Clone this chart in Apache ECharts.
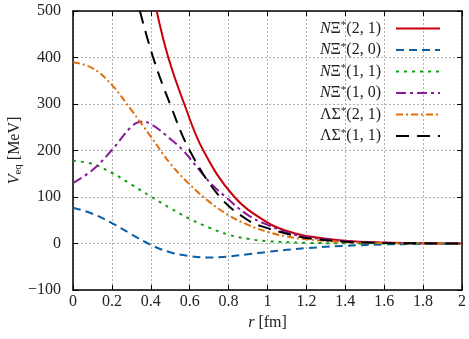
<!DOCTYPE html>
<html>
<head>
	<meta charset="utf-8">
	<title></title>
	<style type="text/css">
	html, body { margin: 0; padding: 0; background: #fff; }
	#chart { width: 469px; height: 339px; }
	</style>
</head>
<body>
	<div id="chart"></div>
	<script src="https://cdn.jsdelivr.net/npm/echarts@6/dist/echarts.min.js"></script>
	<script>
	// r in fm, V in MeV
	var xTicks = [0, 0.2, 0.4, 0.6, 0.8, 1, 1.2, 1.4, 1.6, 1.8, 2];
	var yTicks = [-100, 0, 100, 200, 300, 400, 500];

	var rRed = [0.43, 0.49, 0.572, 0.67, 0.83, 1.0, 1.1, 1.2, 1.4, 1.6, 1.8, 2.0];
	var vRed = [500, 400, 300, 200, 100, 45, 27, 16, 6, 2, 0.6, 0];

	var rBlue = [0, 0.1, 0.2, 0.3, 0.4, 0.5, 0.6, 0.7, 0.8, 0.9, 1.0, 1.2, 1.4, 1.6, 1.8, 2.0];
	var vBlue = [77, 64, 44, 20, -3, -19, -27, -30, -28, -23, -18, -10, -5, -2, -1, 0];

	var rGreen = [0, 0.1, 0.2, 0.3, 0.4, 0.5, 0.6, 0.7, 0.8, 0.9, 1.0, 1.2, 1.4, 1.6, 2.0];
	var vGreen = [178, 171, 152, 127, 101, 76, 53, 34, 19, 10, 5, 1.5, 0.5, 0, 0];

	var rPurple = [0, 0.1, 0.2, 0.3, 0.35, 0.4, 0.5, 0.566, 0.7, 0.785, 0.9, 1.0, 1.1, 1.2, 1.4, 1.6, 2.0];
	var vPurple = [130, 158, 201, 251, 262, 257, 225, 200, 133, 100, 61, 40, 24, 14, 5, 1.5, 0];

	var rOrange = [0, 0.1, 0.2, 0.3, 0.4, 0.5, 0.6, 0.7, 0.8, 0.9, 1.0, 1.1, 1.2, 1.4, 1.6, 2.0];
	var vOrange = [390, 377, 341, 287, 230, 172, 127, 90, 61, 40, 25, 15, 9, 3, 1, 0];

	var rBlack = [0.344, 0.412, 0.499, 0.6, 0.756, 0.9, 1.0, 1.1, 1.2, 1.4, 1.6, 1.8, 2.0];
	var vBlack = [500, 400, 300, 200, 100, 50, 33, 21, 12, 4, 1.2, 0.3, 0];

	var names = ['NΞ*(2,1)', 'NΞ*(2,0)', 'NΞ*(1,1)', 'NΞ*(1,0)', 'ΛΣ*(2,1)', 'ΛΣ*(1,1)'];

	function pairs(xs, ys) {
		var out = [];
		for (var i = 0; i < xs.length; i++) out.push([xs[i], ys[i]]);
		return out;
	}

	var serif = 'Liberation Serif';

	function mkLine(name, xs, ys, color, type) {
		return {
			name: name,
			type: 'line',
			data: pairs(xs, ys),
			smooth: 0.4,
			showSymbol: false,
			symbol: 'none',
			clip: true,
			lineStyle: { color: color, width: 2, type: type },
			itemStyle: { color: color }
		};
	}

	var gridLine = { show: true, lineStyle: { color: '#b0b0b0', width: 1, type: [2, 2] } };
	var boxLine = { show: true, onZero: false, lineStyle: { color: '#000', width: 1.5 } };
	var tick = { show: true, inside: true, length: 5, lineStyle: { color: '#000', width: 1 } };

	var option = {
		animation: false,
		backgroundColor: '#fff',
		grid: { left: 73, right: 7, top: 11, bottom: 49, outerBoundsMode: 'none' },
		legend: {
			orient: 'vertical',
			right: 23,
			top: 15,
			align: 'right',
			itemWidth: 44,
			itemHeight: 14,
			itemGap: 5,
			itemStyle: { opacity: 0 },
			data: names,
			textStyle: {
				fontFamily: serif, fontSize: 16, color: '#222', padding: [0, 10, 0, 0],
				rich: {
					i: { fontFamily: serif, fontSize: 16, fontStyle: 'italic', color: '#222' },
					s: { fontFamily: serif, fontSize: 11, color: '#222', padding: [0, 0, 6, 0] }
				}
			},
			formatter: function (n) {
				var m = n.match(/\((\d),(\d)\)/);
				if (n.charAt(0) === 'N') return '{i|N}Ξ{s|*}(' + m[1] + ', ' + m[2] + ')';
				return 'ΛΣ{s|*}(' + m[1] + ', ' + m[2] + ')';
			}
		},
		xAxis: [{
			type: 'value', min: 0, max: 2, interval: 0.2,
			name: '{i|r} [fm]', nameLocation: 'middle', nameGap: 25,
			nameTextStyle: {
				fontFamily: serif, fontSize: 16, color: '#222',
				rich: { i: { fontFamily: serif, fontSize: 16, fontStyle: 'italic', color: '#222' } }
			},
			axisLine: boxLine, axisTick: tick, splitLine: gridLine,
			axisLabel: {
				fontFamily: serif, fontSize: 16, color: '#222', margin: 4,
				formatter: function (v) { return String(Math.round(v * 10) / 10); }
			}
		}, {
			type: 'value', min: 0, max: 2, interval: 0.2, position: 'top',
			axisLine: boxLine, axisTick: tick, splitLine: { show: false }, axisLabel: { show: false }
		}],
		yAxis: [{
			type: 'value', min: -100, max: 500, interval: 100,
			name: '{i|V}{sub|eq} [MeV]', nameLocation: 'middle', nameGap: 49, nameRotate: 90,
			nameMoveOverlap: false,
			nameTextStyle: {
				fontFamily: serif, fontSize: 16, color: '#222',
				rich: {
					i: { fontFamily: serif, fontSize: 16, fontStyle: 'italic', color: '#222' },
					sub: { fontFamily: serif, fontSize: 11, color: '#222', padding: [7, 0, 0, 0] }
				}
			},
			axisLine: boxLine, axisTick: tick, splitLine: gridLine,
			axisLabel: {
				fontFamily: serif, fontSize: 16, color: '#222', margin: 12,
				formatter: function (v) { return String(v).replace('-', '\u2212'); }
			}
		}, {
			type: 'value', min: -100, max: 500, interval: 100, position: 'right',
			axisLine: boxLine, axisTick: tick, splitLine: { show: false }, axisLabel: { show: false }
		}],
		series: [
			mkLine(names[0], rRed, vRed, '#c8000a', 'solid'),
			mkLine(names[1], rBlue, vBlue, '#0a5fa6', [8, 5]),
			mkLine(names[2], rGreen, vGreen, '#119e11', [3, 5]),
			mkLine(names[3], rPurple, vPurple, '#8a1a9a', [10, 4, 3, 4]),
			mkLine(names[4], rOrange, vOrange, '#e06f0a', [7, 3, 2, 3]),
			mkLine(names[5], rBlack, vBlack, '#000000', [13, 8])
		]
	};

	var myChart = echarts.init(document.getElementById('chart'));
	myChart.setOption(option, true);
	</script>
</body>
</html>
